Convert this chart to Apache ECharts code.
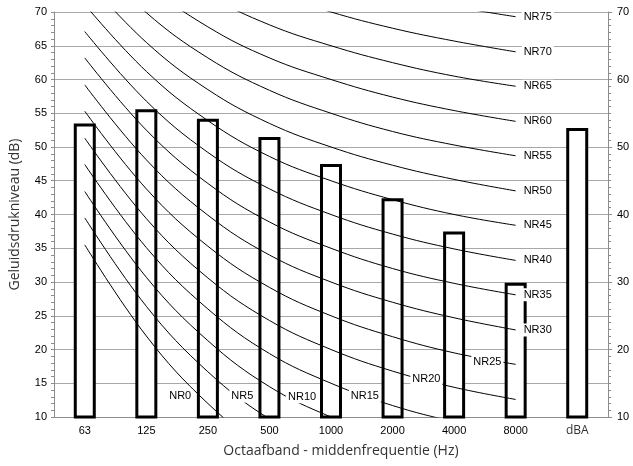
<!DOCTYPE html>
<html>
<head>
<meta charset="utf-8">
<script src="https://cdn.jsdelivr.net/npm/echarts@6/dist/echarts.min.js"></script>
<style>
    html, body { margin: 0; padding: 0; background: #fff; }
    #chart { width: 633px; height: 466px; }
</style>
</head>
<body>
<div id="chart"></div>
<script>
// octave bands + overall level
const categories = ['63', '125', '250', '500', '1000', '2000', '4000', '8000', 'dBA'];
// measured sound pressure level per band (dB)
const levels = [53.5, 55.6, 54.2, 51.5, 47.5, 42.4, 37.5, 29.9, 52.8];

// NR curves, 63 .. 8000 Hz
const nr0  = [35.5, 22.0, 12.0,  4.8,  0.0, -3.5, -6.1, -8.0];
const nr5  = [39.5, 26.4, 16.7,  9.7,  5.0,  1.6, -1.0, -2.9];
const nr10 = [43.4, 30.7, 21.3, 14.5, 10.0,  6.7,  4.2,  2.3];
const nr15 = [47.4, 35.1, 26.0, 19.4, 15.0, 11.7,  9.3,  7.5];
const nr20 = [51.3, 39.4, 30.6, 24.3, 20.0, 16.8, 14.4, 12.6];
const nr25 = [55.3, 43.8, 35.3, 29.2, 25.0, 21.9, 19.5, 17.8];
const nr30 = [59.2, 48.1, 39.9, 34.0, 30.0, 27.0, 24.7, 22.9];
const nr35 = [63.2, 52.5, 44.6, 38.9, 35.0, 32.0, 29.8, 28.1];
const nr40 = [67.1, 56.8, 49.2, 43.8, 40.0, 37.1, 34.9, 33.2];
const nr45 = [71.1, 61.2, 53.9, 48.6, 45.0, 42.2, 40.0, 38.4];
const nr50 = [75.0, 65.5, 58.5, 53.5, 50.0, 47.3, 45.2, 43.5];
const nr55 = [79.0, 69.9, 63.2, 58.4, 55.0, 52.3, 50.3, 48.7];
const nr60 = [82.9, 74.2, 67.8, 63.2, 60.0, 57.4, 55.4, 53.8];
const nr65 = [86.9, 78.6, 72.5, 68.1, 65.0, 62.5, 60.5, 59.0];
const nr70 = [90.8, 82.9, 77.1, 73.0, 70.0, 67.6, 65.7, 64.1];
const nr75 = [94.8, 87.3, 81.8, 77.9, 75.0, 72.6, 70.8, 69.3];

const curves = [
    ['NR0', nr0], ['NR5', nr5], ['NR10', nr10], ['NR15', nr15],
    ['NR20', nr20], ['NR25', nr25], ['NR30', nr30], ['NR35', nr35],
    ['NR40', nr40], ['NR45', nr45], ['NR50', nr50], ['NR55', nr55],
    ['NR60', nr60], ['NR65', nr65], ['NR70', nr70], ['NR75', nr75]
];

// curves that leave the plot at the bottom get their label on the curve
const inlineLabelAt = {
    NR0: [1.55, 13.1],
    NR5: [2.56, 13.1],
    NR10: [3.53, 13.0],
    NR15: [4.55, 13.1],
    NR20: [5.55, 15.6],
    NR25: [6.54, 18.1]
};

const tickFont = 'Liberation Sans';
const titleFont = 'Open Sans';
const gray = '#8c8c8c';

const labelStyle = {
    color: '#000',
    fontFamily: tickFont,
    fontSize: 11,
    backgroundColor: '#fff',
    padding: [1, 2]
};

let series = [{
    type: 'bar',
    data: levels,
    barWidth: 22,
    z: 2,
    silent: true,
    itemStyle: {color: '#fff', borderColor: '#000', borderWidth: 3}
}];

curves.forEach(function (c) {
    const name = c[0];
    const inline = inlineLabelAt[name];
    let s = {
        type: 'line',
        name: name,
        xAxisIndex: 1,
        data: c[1].map(function (v, i) { return [i, v]; }),
        smooth: 0.4,
        symbol: 'none',
        silent: true,
        z: 3,
        lineStyle: {color: '#000', width: 1},
        endLabel: Object.assign({show: !inline, formatter: name, distance: 6}, labelStyle)
    };
    if (inline) {
        s.markPoint = {
            symbol: 'rect',
            symbolSize: 1,
            silent: true,
            itemStyle: {color: 'rgba(0,0,0,0)'},
            label: Object.assign({show: true, position: 'inside', formatter: name}, labelStyle),
            data: [{coord: inline, name: name}]
        };
    }
    series.push(s);
});

const myChart = echarts.init(document.getElementById('chart'));
myChart.setOption({
    animation: false,
    grid: {left: 53, right: 25, top: 12, bottom: 49},
    xAxis: [
        {
            type: 'category',
            data: categories,
            boundaryGap: true,
            name: 'Octaafband - middenfrequentie (Hz)',
            nameLocation: 'middle',
            nameGap: 27,
            nameTextStyle: {fontFamily: titleFont, fontSize: 14, color: '#333', padding: [0, 0, 0, 20]},
            axisLine: {show: true, onZero: false, lineStyle: {color: gray}},
            axisTick: {show: false},
            axisLabel: {
                margin: 8,
                color: '#000',
                fontFamily: tickFont,
                fontSize: 11,
                formatter: function (v) { return v === 'dBA' ? '{d|dBA}' : v; },
                rich: {d: {fontFamily: titleFont, fontSize: 12, color: '#333', padding: [0, 0, 4, 0]}}
            },
            splitLine: {show: false}
        },
        {
            type: 'value',
            min: -0.5,
            max: 8.5,
            show: false
        }
    ],
    yAxis: [
        {
            type: 'value',
            min: 10,
            max: 70,
            interval: 5,
            name: 'Geluidsdrukniveau (dB)',
            nameLocation: 'middle',
            nameGap: 32,
            nameTextStyle: {fontFamily: titleFont, fontSize: 14, color: '#333'},
            axisLine: {show: true, onZero: false, lineStyle: {color: gray}},
            axisTick: {show: true, length: 3, lineStyle: {color: gray}},
            minorTick: {show: true, splitNumber: 5, length: 3, lineStyle: {color: gray}},
            axisLabel: {margin: 7, color: '#000', fontFamily: tickFont, fontSize: 11},
            splitLine: {show: true, lineStyle: {color: '#a8a8a8', width: 1}}
        },
        {
            type: 'value',
            position: 'right',
            min: 10,
            max: 70,
            interval: 10,
            axisLine: {show: true, onZero: false, lineStyle: {color: gray}},
            axisTick: {show: true, length: 4, lineStyle: {color: gray}},
            minorTick: {show: true, splitNumber: 10, length: 3, lineStyle: {color: gray}},
            axisLabel: {margin: 9, color: '#000', fontFamily: tickFont, fontSize: 11},
            splitLine: {show: false}
        }
    ],
    series: series
});
</script>
</body>
</html>
